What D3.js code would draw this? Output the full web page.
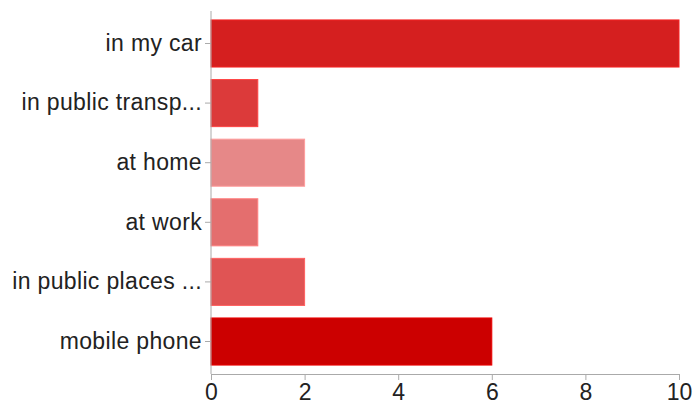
<!DOCTYPE html>
<html>
<head>
<meta charset="utf-8">
<script src="https://cdn.jsdelivr.net/npm/d3@7"></script>
<style>
  html, body { margin: 0; padding: 0; background: #fff; }
  svg { display: block; }
</style>
</head>
<body>
<svg id="chart" width="697" height="408"></svg>
<script>
// Where people listen: response counts per place
const categories = ["in my car", "in public transp...", "at home", "at work", "in public places ...", "mobile phone"];
const counts = [10, 1, 2, 1, 2, 6];
const barColors = ["#d51f1f", "#dc3a3a", "#e68888", "#e46e6e", "#e05454", "#cc0000"];
const xTicks = [0, 2, 4, 6, 8, 10];

const svg = d3.select("#chart");
const fontFamily = "Liberation Sans, Arial, Helvetica, sans-serif";

const x = d3.scaleLinear().domain([0, 10]).range([211, 679]);
const y = d3.scaleBand().domain(categories).range([11, 374])
  .paddingInner(0.21).paddingOuter(0.15);

// bars
svg.append("g").selectAll("rect")
  .data(categories)
  .join("rect")
  .attr("x", x(0))
  .attr("y", d => y(d))
  .attr("width", (d, i) => x(counts[i]) - x(0))
  .attr("height", y.bandwidth())
  .attr("fill", (d, i) => barColors[i])
  .attr("stroke", (d, i) => d3.color(barColors[i]).brighter(0.4))
  .attr("stroke-width", 1);

// y axis
const yAxis = svg.append("g")
  .attr("transform", `translate(${x(0)},0)`)
  .call(d3.axisLeft(y).tickSize(6).tickSizeOuter(0).tickPadding(3));
yAxis.select(".domain").attr("stroke", "#aaa").attr("d", `M0,11V374`);
yAxis.selectAll(".tick line").attr("stroke", "#aaa");
yAxis.selectAll(".tick text")
  .attr("fill", "#222")
  .style("font-family", fontFamily)
  .style("font-size", "23px")
  .style("letter-spacing", "0.35px");

// x axis
const xAxis = svg.append("g")
  .attr("transform", `translate(0,374)`)
  .call(d3.axisBottom(x).tickValues(xTicks).tickSize(6).tickSizeOuter(0).tickPadding(4));
xAxis.select(".domain").attr("stroke", "#aaa");
xAxis.selectAll(".tick line").attr("stroke", "#aaa");
xAxis.selectAll(".tick text")
  .attr("fill", "#222")
  .style("font-family", fontFamily)
  .style("font-size", "23px");
</script>
</body>
</html>
